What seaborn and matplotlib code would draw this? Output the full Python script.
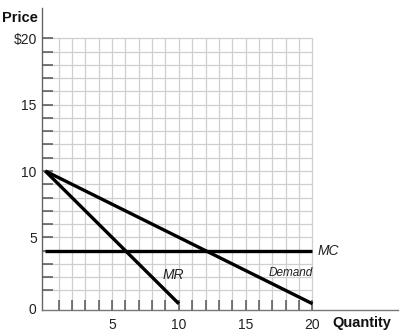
import matplotlib
matplotlib.use("Agg")
import matplotlib.pyplot as plt
import seaborn as sns
import pandas as pd
from matplotlib.ticker import FixedLocator, FixedFormatter

# Curves of the monopoly diagram (quantity, price)
demand_q = [0, 20]
demand_p = [10, 0]
mr_q = [0, 10]
mr_p = [10, 0]
mc_q = [0, 20]
mc_p = [4, 4]

tick_vals = list(range(1, 21))
x_labels = ["" if v % 5 else str(v) for v in tick_vals]
y_labels = ["" if v % 5 else ("$20" if v == 20 else str(v)) for v in tick_vals]

df = pd.concat([
    pd.DataFrame({"Quantity": demand_q, "Price": demand_p, "curve": "Demand"}),
    pd.DataFrame({"Quantity": mr_q, "Price": mr_p, "curve": "MR"}),
    pd.DataFrame({"Quantity": mc_q, "Price": mc_p, "curve": "MC"}),
])

sns.set_theme(style="white")
plt.rcParams["font.family"] = ["Liberation Sans", "DejaVu Sans"]

fig = plt.figure(figsize=(4.11, 3.32), dpi=100)
ax = fig.add_axes([0.1029, 0.0663, 0.8655, 0.9096])
ax.set_axisbelow(False)

x_lo, x_hi = -0.22, 26.4
y_lo, y_hi = -0.47, 22.28
ax.set_xlim(x_lo, x_hi)
ax.set_ylim(y_lo, y_hi)

# light grid over the 20 x 20 region
grid_c = "#cfcfcf"
ax.hlines(tick_vals, x_lo, 20, color=grid_c, lw=0.9, zorder=1)
ax.vlines(tick_vals, y_lo, 20, color=grid_c, lw=0.9, zorder=1)

for name in ["Demand", "MR", "MC"]:
    sub = df[df["curve"] == name]
    sns.lineplot(data=sub, x="Quantity", y="Price", ax=ax, color="black",
                 lw=2.4, zorder=3, legend=False, estimator=None, sort=False)
for ln in ax.lines:
    ln.set_solid_capstyle("butt")

ax.set_xlabel("")
ax.set_ylabel("")

for s in ["top", "right"]:
    ax.spines[s].set_visible(False)
ax.spines["left"].set_color("#666666")
ax.spines["bottom"].set_color("#777777")
ax.spines["left"].set_linewidth(1.0)
ax.spines["bottom"].set_linewidth(1.0)

ax.xaxis.set_major_locator(FixedLocator(tick_vals))
ax.xaxis.set_major_formatter(FixedFormatter(x_labels))
ax.yaxis.set_major_locator(FixedLocator(tick_vals))
ax.yaxis.set_major_formatter(FixedFormatter(y_labels))
ax.tick_params(axis="x", direction="in", length=7, width=1.1, color="#555555",
               labelsize=10, labelcolor="#222222", pad=6, bottom=True)
ax.tick_params(axis="y", direction="in", length=8, width=1.1, color="#555555",
               labelsize=10, labelcolor="#222222", pad=4, left=True)

# origin label at the corner
ax.annotate("0", xy=(x_lo, y_lo), xytext=(-4, 0), textcoords="offset points",
            ha="right", va="center", fontsize=10, color="#222222")

# axis titles
fig.text(2 / 411, 1 - 18 / 332, "Price", fontsize=10.5, fontweight="bold",
         ha="left", va="center", color="#111111")
fig.text(332 / 411, 1 - 323 / 332, "Quantity", fontsize=10.5, fontweight="bold",
         ha="left", va="center", color="#111111")

# curve labels
ax.text(20.35, 4, "MC", fontsize=10, style="italic", ha="left", va="center",
        color="#222222")
ax.text(8.75, 2.15, "MR", fontsize=10, style="italic", ha="left", va="center",
        color="#222222")
ax.text(16.7, 2.3, "Demand", fontsize=8.5, style="italic", ha="left",
        va="center", color="#222222")

fig.savefig("out.png", dpi=100)
